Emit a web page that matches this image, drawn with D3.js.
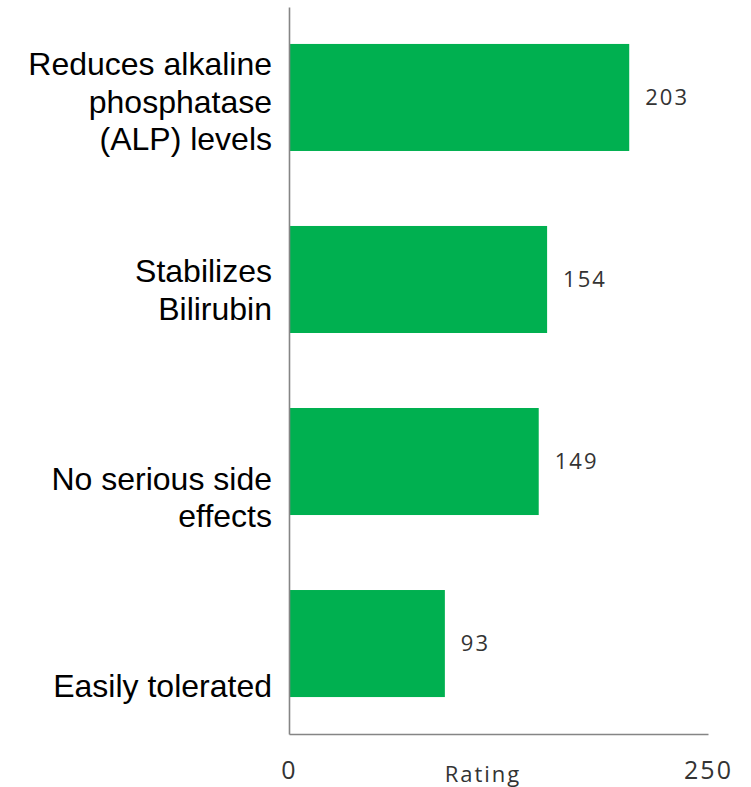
<!DOCTYPE html>
<html>
<head>
<meta charset="utf-8">
<script src="https://cdn.jsdelivr.net/npm/d3@7"></script>
<style>
  body { margin: 0; background: #fff; }
</style>
</head>
<body>
<div id="chart"></div>
<script>
    // Data
    const categories = [
        "Reduces alkaline\nphosphatase\n(ALP) levels",
        "Stabilizes\nBilirubin",
        "No serious side\neffects",
        "Easily tolerated"
    ];
    const ratings = [203, 154, 149, 93];
    const xTicks = [0, 250];
    const xTitle = "Rating";

    const width = 751, height = 787;

    const svg = d3.select("#chart")
        .append("svg")
        .attr("width", width)
        .attr("height", height);

    // X scale
    const x = d3.scaleLinear()
        .domain([0, 250])
        .range([289, 708]);

    // Y band scale for bars
    const y = d3.scaleBand()
        .domain(categories)
        .range([7, 734])
        .paddingInner(0.412)
        .paddingOuter(0.203);

    // labels sit on their own spacing in the original
    const yLabel = d3.scalePoint()
        .domain(categories)
        .range([75, 697]);

    // Bars
    svg.selectAll("rect.bar")
        .data(categories)
        .enter()
        .append("rect")
        .attr("class", "bar")
        .attr("x", x(0))
        .attr("y", d => y(d))
        .attr("width", (d, i) => x(ratings[i]) - x(0))
        .attr("height", y.bandwidth())
        .attr("fill", "#00b050");

    // Left axis line
    svg.append("g")
        .attr("transform", `translate(${x(0)},0)`)
        .call(d3.axisLeft(y).tickSize(0).tickSizeOuter(0).tickFormat(""))
        .call(g => g.select(".domain").attr("stroke", "#858585").attr("stroke-width", 1.6));

    // Bottom axis
    svg.append("g")
        .attr("transform", `translate(0,734)`)
        .call(d3.axisBottom(x).tickValues(xTicks).tickSize(0).tickSizeOuter(0).tickPadding(27))
        .call(g => g.select(".domain").attr("stroke", "#858585").attr("stroke-width", 1.6))
        .call(g => g.selectAll(".tick text")
            .attr("fill", "#333")
            .style("font-family", "'Open Sans', sans-serif")
            .style("font-size", "25px")
            .style("letter-spacing", "2px"));

    // Axis title
    svg.append("text")
        .attr("x", 483)
        .attr("y", 782)
        .attr("text-anchor", "middle")
        .attr("fill", "#333")
        .style("font-family", "'Open Sans', sans-serif")
        .style("font-size", "22px")
        .style("letter-spacing", "2px")
        .text(xTitle);

    // Category labels
    const labels = svg.selectAll("text.cat")
        .data(categories)
        .enter()
        .append("text")
        .attr("class", "cat")
        .attr("text-anchor", "end")
        .attr("fill", "#000")
        .style("font-family", "'Liberation Sans', Arial, sans-serif")
        .style("font-size", "32px");

    labels.each(function (d) {
        const t = d3.select(this);
        d.split("\n").forEach((line, j) => {
            t.append("tspan")
                .attr("x", 272)
                .attr("y", yLabel(d) + j * 37.5)
                .text(line);
        });
    });

    // Value labels
    svg.selectAll("text.val")
        .data(categories)
        .enter()
        .append("text")
        .attr("class", "val")
        .attr("x", (d, i) => x(ratings[i]) + 16)
        .attr("y", d => y(d) + y.bandwidth() / 2)
        .attr("dy", "0.36em")
        .attr("fill", "#333")
        .style("font-family", "'Open Sans', sans-serif")
        .style("font-size", "22px")
        .style("letter-spacing", "2px")
        .text((d, i) => ratings[i]);
</script>
</body>
</html>
